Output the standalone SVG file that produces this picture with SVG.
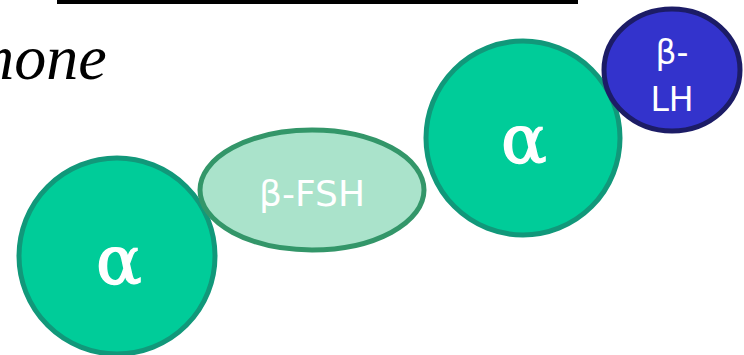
<svg xmlns="http://www.w3.org/2000/svg" width="744" height="355" viewBox="0 0 744 355">
<style>
.alpha{fill:#00cc99;stroke:#11987a;stroke-width:5}
.fsh{fill:#aae3cb;stroke:#339669;stroke-width:5}
.lh{fill:#3333cc;stroke:#1c1c66;stroke-width:5}
.lbl{fill:#ffffff;font-family:"DejaVu Sans",sans-serif;text-anchor:middle}
.greek{fill:#ffffff;stroke:#ffffff;stroke-width:1.3;font-family:"DejaVu Serif",serif;text-anchor:middle}
</style>
<rect x="57" y="0" width="521" height="4" fill="#000000"/>
<text x="-32" y="79" font-family="Liberation Serif,serif" font-style="italic" font-size="64" fill="#000000">mone</text>
<g id="connectors"></g>
<g id="alpha1">
<circle class="alpha" cx="117" cy="256" r="98"/>
<text class="greek" x="119" y="284" font-size="68">α</text>
</g>
<g id="beta-fsh">
<ellipse class="fsh" cx="312" cy="190" rx="112" ry="60"/>
<text class="lbl" x="312" y="206" font-size="36">β-FSH</text>
</g>
<g id="alpha2">
<circle class="alpha" cx="523" cy="138" r="97"/>
<text class="greek" x="524" y="163" font-size="68">α</text>
</g>
<g id="beta-lh">
<ellipse class="lh" cx="672" cy="70" rx="68" ry="61"/>
<text class="lbl" x="672" y="64" font-size="33">β-</text>
<text class="lbl" x="672" y="111" font-size="33">LH</text>
</g>
</svg>
